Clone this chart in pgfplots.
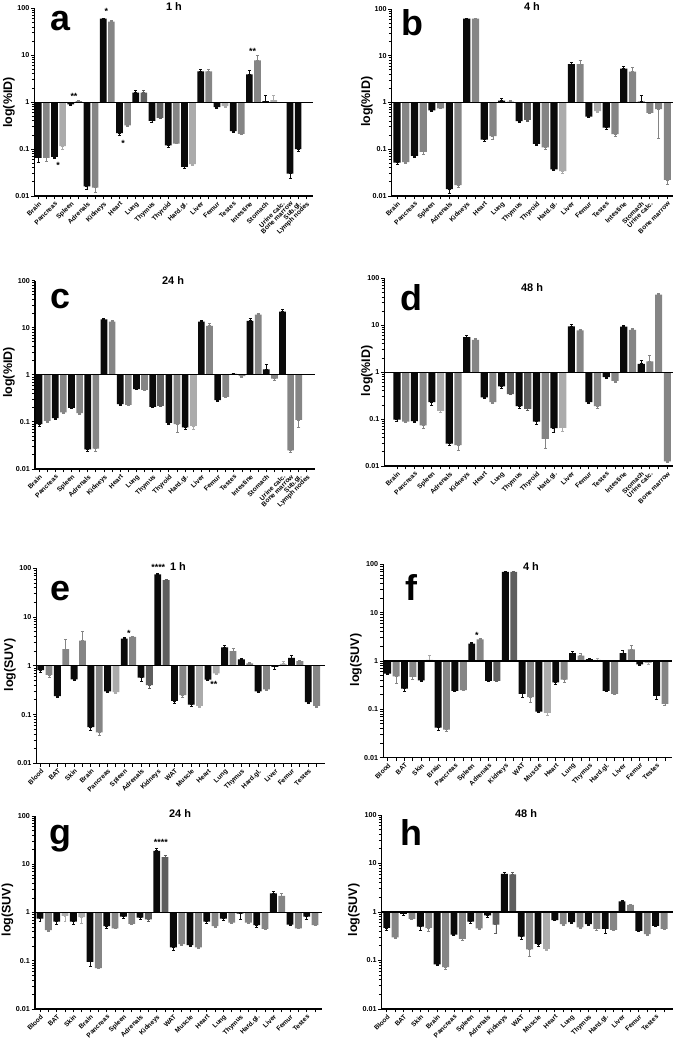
\documentclass[border=0pt]{standalone}
\usepackage{fontspec}
\setmainfont{Liberation Sans}
\usepackage{pgfplots}
\usepackage{pgfplotstable}
\pgfplotsset{compat=1.18}

\definecolor{bk}{HTML}{0A0A0A}
\definecolor{gA}{HTML}{858585}
\definecolor{gB}{HTML}{5E5E5E}
\definecolor{gC}{HTML}{ABABAB}

% x y(mean) e(error end) c(colour class)
\pgfplotstableread{
x y e c
0 0.065 0.053 0
1 0.065 0.055 1
2 0.068 0.063 0
3 0.115 0.100 3
4 0.90 0.85 0
5 1.05 1.08 1
6 0.016 0.014 0
7 0.015 0.012 1
8 60 62 0
9 52 55 1
10 0.22 0.20 0
11 0.32 0.31 1
12 1.6 1.8 0
13 1.6 1.8 2
14 0.40 0.37 0
15 0.46 0.45 2
16 0.12 0.11 0
17 0.13 0.13 1
18 0.042 0.038 0
19 0.048 0.045 3
20 4.5 4.9 0
21 4.5 4.9 1
22 0.78 0.73 0
23 0.82 0.78 3
24 0.24 0.23 0
25 0.21 0.21 1
26 3.9 4.7 0
27 7.8 10 1
28 1.05 1.4 0
29 1.1 1.4 3
31 0.030 0.024 0
32 0.10 0.088 0
}\dA

\pgfplotstableread{
x y e c
0 0.052 0.047 0
1 0.053 0.049 1
2 0.072 0.066 0
3 0.088 0.078 1
4 0.68 0.65 0
5 0.75 0.73 1
6 0.014 0.0115 0
7 0.017 0.015 1
8 62 63 0
9 62 63 1
10 0.16 0.145 0
11 0.19 0.165 1
12 1.1 1.2 0
13 1.05 1.1 1
14 0.40 0.37 0
15 0.42 0.39 2
16 0.13 0.12 0
17 0.11 0.097 1
18 0.037 0.035 0
19 0.034 0.031 3
20 6.6 7.3 0
21 6.6 8.0 1
22 0.50 0.47 0
23 0.65 0.62 3
24 0.29 0.26 0
25 0.21 0.185 1
26 5.3 6.0 0
27 4.6 5.6 1
28 1.05 1.4 0
29 0.60 0.58 1
30 0.72 0.17 1
31 0.022 0.018 1
}\dB

\pgfplotstableread{
x y e c
0 0.09 0.08 0
1 0.105 0.10 1
2 0.12 0.115 0
3 0.16 0.15 1
4 0.20 0.19 0
5 0.153 0.145 1
6 0.026 0.024 0
7 0.027 0.024 1
8 15 16 0
9 13.5 14.5 1
10 0.24 0.23 0
11 0.23 0.22 1
12 0.50 0.48 0
13 0.48 0.46 1
14 0.21 0.20 0
15 0.22 0.21 2
16 0.095 0.088 0
17 0.09 0.06 1
18 0.077 0.07 0
19 0.08 0.068 3
20 13.5 14 0
21 11 12.5 1
22 0.29 0.27 0
23 0.34 0.33 1
24 1.05 1.08 0
25 0.94 0.90 1
26 14 15.5 0
27 19 20 1
28 1.3 1.65 0
29 0.83 0.78 1
30 22 24 0
31 0.025 0.022 1
32 0.11 0.075 1
}\dC

\pgfplotstableread{
x y e c
0 0.097 0.09 0
1 0.088 0.083 1
2 0.09 0.085 0
3 0.073 0.063 1
4 0.23 0.20 0
5 0.15 0.14 3
6 0.030 0.027 0
7 0.028 0.022 1
8 5.6 6.0 0
9 4.9 5.2 1
10 0.29 0.28 0
11 0.23 0.22 1
12 0.50 0.46 0
13 0.34 0.33 2
14 0.19 0.17 0
15 0.165 0.155 2
16 0.088 0.078 0
17 0.038 0.024 1
18 0.064 0.052 0
19 0.065 0.054 3
20 9.5 10.3 0
21 7.8 8.1 1
22 0.23 0.22 0
23 0.19 0.17 1
24 0.78 0.75 0
25 0.65 0.60 1
26 9.3 10 0
27 8.0 8.6 1
28 1.5 1.75 0
29 1.7 2.3 1
30 45 47 1
31 0.0125 0.012 1
}\dD

\pgfplotstableread{
x y e c
0 0.82 0.75 0
1 0.65 0.58 1
2 0.24 0.225 0
3 2.2 3.5 1
4 0.53 0.50 0
5 3.3 5.2 1
6 0.055 0.048 0
7 0.043 0.037 1
8 0.30 0.28 0
9 0.29 0.27 3
10 3.6 3.9 0
11 3.9 4.1 1
12 0.57 0.47 0
13 0.40 0.35 2
14 75 78 0
15 57 60 2
16 0.19 0.17 0
17 0.25 0.22 1
18 0.16 0.145 0
19 0.15 0.14 3
20 0.52 0.50 0
21 0.70 0.68 3
22 2.4 2.65 0
23 2.0 2.25 1
24 1.35 1.4 0
25 1.12 1.15 1
26 0.30 0.28 0
27 0.33 0.32 1
28 0.95 0.83 0
29 1.1 1.25 3
30 1.45 1.6 0
31 1.25 1.3 1
32 0.18 0.17 0
33 0.15 0.14 1
}\dE

\pgfplotstableread{
x y e c
0 0.55 0.52 0
1 0.48 0.35 1
2 0.27 0.23 0
3 0.47 0.42 1
4 0.40 0.37 0
5 1.05 1.3 3
6 0.042 0.037 0
7 0.038 0.035 1
8 0.24 0.235 0
9 0.25 0.245 1
10 2.3 2.4 0
11 2.8 3.0 1
12 0.39 0.38 0
13 0.39 0.38 2
14 70 71 0
15 70 71 2
16 0.21 0.18 0
17 0.18 0.14 1
18 0.09 0.085 0
19 0.085 0.075 3
20 0.36 0.33 0
21 0.41 0.36 1
22 1.45 1.6 0
23 1.3 1.45 1
24 1.1 1.12 0
25 1.05 1.15 3
26 0.24 0.235 0
27 0.21 0.20 1
28 1.45 1.65 0
29 1.75 2.1 1
30 0.85 0.82 0
31 0.92 0.87 3
32 0.19 0.16 0
33 0.13 0.12 1
}\dF

\pgfplotstableread{
x y e c
0 0.75 0.66 0
1 0.43 0.41 1
2 0.65 0.58 0
3 0.85 0.65 3
4 0.65 0.58 0
5 0.80 0.60 3
6 0.095 0.078 0
7 0.07 0.07 1
8 0.52 0.46 0
9 0.47 0.46 1
10 0.82 0.75 0
11 0.58 0.56 1
12 0.78 0.72 0
13 0.72 0.65 2
14 19 21 0
15 14 15.5 2
16 0.19 0.165 0
17 0.22 0.21 1
18 0.21 0.195 0
19 0.19 0.18 1
20 0.65 0.60 0
21 0.52 0.50 1
22 0.75 0.70 0
23 0.62 0.60 1
24 0.95 0.72 0
25 0.62 0.59 1
26 0.55 0.50 0
27 0.46 0.45 1
28 2.5 2.7 0
29 2.2 2.45 1
30 0.56 0.53 0
31 0.47 0.46 1
32 0.82 0.72 0
33 0.55 0.53 1
}\dG

\pgfplotstableread{
x y e c
0 0.47 0.42 0
1 0.30 0.29 1
2 0.92 0.85 0
3 0.72 0.70 1
4 0.50 0.42 0
5 0.47 0.40 1
6 0.083 0.08 0
7 0.073 0.066 1
8 0.34 0.33 0
9 0.28 0.26 1
10 0.63 0.59 0
11 0.46 0.43 1
12 0.85 0.78 0
13 0.55 0.36 2
14 6.1 6.5 0
15 6.0 6.7 2
16 0.31 0.27 0
17 0.17 0.12 1
18 0.22 0.20 0
19 0.17 0.165 3
20 0.68 0.66 0
21 0.56 0.54 1
22 0.62 0.58 0
23 0.48 0.47 1
24 0.56 0.52 0
25 0.45 0.42 1
26 0.45 0.37 0
27 0.43 0.42 1
28 1.65 1.75 0
29 1.4 1.45 1
30 0.41 0.40 0
31 0.35 0.33 1
32 0.52 0.50 0
33 0.45 0.44 1
}\dH

\pgfplotsset{every axis/.append style={
    scale only axis,
    ymode=log, ymin=0.01, ymax=100,
    ytick={0.01,0.1,1,10,100}, yticklabels={0.01,0.1,1,10,100},
    minor ytick={},
    axis x line*=bottom, axis y line*=left,
    axis line style={line width=1.1pt, black},
    tick align=outside, major tick length=3.5pt,
    tick style={line width=0.9pt, black},
    yticklabel style={font=\bfseries\fontsize{7.2}{8}\selectfont, inner sep=1.5pt},
    xticklabel style={font=\bfseries\fontsize{6.6}{7}\selectfont, rotate=45,
      anchor=north east, inner sep=1pt},
    clip=false}}

% one bar colour class: #1 colour, #2 class, #3 table
\newcommand\onebar[3]{%
  \addplot[ybar, bar width=0.82, bar shift=0pt, draw=none, fill=#1,
    restrict expr to domain={\thisrow{c}}{#2:#2},
    error bars/y dir=both, error bars/y explicit,
    error bars/error bar style={#1, line width=0.8pt},
    error bars/error mark options={#1, rotate=90, mark size=1.5pt, line width=0.8pt}]
    table[x=x, y=y,
    y error plus expr={max(\thisrow{e}-\thisrow{y},0)},
    y error minus expr={max(\thisrow{y}-\thisrow{e},0)}] {#3};
}
\newcommand\bargroup[1]{%
  \onebar{bk}{0}{#1}
  \onebar{gA}{1}{#1}
  \onebar{gB}{2}{#1}
  \onebar{gC}{3}{#1}
  \draw[line width=1.1pt, black] (rel axis cs:0,0.5) -- (rel axis cs:1,0.5);
}

\begin{document}
\begin{tikzpicture}
\useasboundingbox (0,0) rectangle (675bp,-1045bp);

% ---------- a ----------
\begin{axis}[anchor=south west, at={(34.6bp,-196bp)}, width=278.4bp, height=187.7bp,
  xmin=-0.45, xmax=33.83, xtick={0,...,33},
  xticklabels={Brain,,Pancreas,,Spleen,,Adrenals,,Kidneys,,Heart,,Lung,,Thymus,,Thyroid,,Hard.gl.,,Liver,,Femur,,Testes,,Intestine,,Stomach,,Urine calc.,Bone marrow,Sub.gl.,Lymph nodes}]
\bargroup{\dA}
\node[font=\bfseries\fontsize{9}{9}\selectfont, inner sep=0pt] at (axis cs:8.4,85) {*};
\node[font=\bfseries\fontsize{9}{9}\selectfont, inner sep=0pt] at (axis cs:4.4,1.3) {**};
\node[font=\bfseries\fontsize{9}{9}\selectfont, inner sep=0pt] at (axis cs:2.45,0.045) {*};
\node[font=\bfseries\fontsize{9}{9}\selectfont, inner sep=0pt] at (axis cs:10.45,0.13) {*};
\node[font=\bfseries\fontsize{9}{9}\selectfont, inner sep=0pt] at (axis cs:26.4,11.8) {**};
\end{axis}

% ---------- b ----------
\begin{axis}[anchor=south west, at={(391.7bp,-196bp)}, width=281.3bp, height=187bp,
  xmin=-0.61, xmax=31.65, xtick={0,...,31},
  xticklabels={Brain,,Pancreas,,Spleen,,Adrenals,,Kidneys,,Heart,,Lung,,Thymus,,Thyroid,,Hard.gl.,,Liver,,Femur,,Testes,,Intestine,,Stomach,Urine calc.,,Bone marrow}]
\bargroup{\dB}
\end{axis}

% ---------- c ----------
\begin{axis}[anchor=south west, at={(35bp,-469bp)}, width=280bp, height=188.3bp,
  xmin=-0.5, xmax=34.0, xtick={0,...,33},
  xticklabels={Brain,,Pancreas,,Spleen,,Adrenals,,Kidneys,,Heart,,Lung,,Thymus,,Thyroid,,Hard.gl.,,Liver,,Femur,,Testes,,Intestine,,Stomach,,Urine calc.,Bone marrow,Sub.gl.,Lymph nodes}]
\bargroup{\dC}
\end{axis}

% ---------- d ----------
\begin{axis}[anchor=south west, at={(384.5bp,-466bp)}, width=288.5bp, height=187.7bp,
  xmin=-1.43, xmax=31.65, xtick={0,...,31},
  xticklabels={Brain,,Pancreas,,Spleen,,Adrenals,,Kidneys,,Heart,,Lung,,Thymus,,Thyroid,,Hard.gl.,,Liver,,Femur,,Testes,,Intestine,,Stomach,Urine calc.,,Bone marrow}]
\bargroup{\dD}
\end{axis}

% ---------- e ----------
\begin{axis}[anchor=south west, at={(36.5bp,-763.3bp)}, width=288.5bp, height=195bp,
  xmin=-0.5, xmax=34.0, xtick={0,...,33},
  xticklabels={Blood,,BAT,,Skin,,Brain,,Pancreas,,Spleen,,Adrenals,,Kidneys,,WAT,,Muscle,,Heart,,Lung,,Thymus,,Hard.gl.,,Liver,,Femur,,Testes,}]
\bargroup{\dE}
\node[font=\bfseries\fontsize{9}{9}\selectfont, inner sep=0pt] at (axis cs:10.56,4.6) {*};
\node[font=\bfseries\fontsize{9}{9}\selectfont, inner sep=0pt] at (axis cs:20.7,0.42) {**};
\node[font=\bfseries\fontsize{9}{9}\selectfont, inner sep=0pt] at (axis cs:14.06,105) {****};
\end{axis}

% ---------- f ----------
\begin{axis}[anchor=south west, at={(383.3bp,-757.7bp)}, width=288.4bp, height=193.4bp,
  xmin=-0.52, xmax=33.8, xtick={0,...,33},
  xticklabels={Blood,,BAT,,Skin,,Brain,,Pancreas,,Spleen,,Adrenals,,Kidneys,,WAT,,Muscle,,Heart,,Lung,,Thymus,,Hard.gl.,,Liver,,Femur,,Testes,}]
\bargroup{\dF}
\node[font=\bfseries\fontsize{9}{9}\selectfont, inner sep=0pt] at (axis cs:10.6,3.4) {*};
\end{axis}

% ---------- g ----------
\begin{axis}[anchor=south west, at={(35bp,-1009bp)}, width=286.7bp, height=193bp,
  xmin=-0.6, xmax=33.8, xtick={0,...,33},
  xticklabels={Blood,,BAT,,Skin,,Brain,,Pancreas,,Spleen,,Adrenals,,Kidneys,,WAT,,Muscle,,Heart,,Lung,,Thymus,,Hard.gl.,,Liver,,Femur,,Testes,}]
\bargroup{\dG}
\node[font=\bfseries\fontsize{9}{9}\selectfont, inner sep=0pt] at (axis cs:14.5,28) {****};
\end{axis}

% ---------- h ----------
\begin{axis}[anchor=south west, at={(381.7bp,-1009bp)}, width=291.6bp, height=194bp,
  xmin=-0.6, xmax=34.1, xtick={0,...,33},
  xticklabels={Blood,,BAT,,Skin,,Brain,,Pancreas,,Spleen,,Adrenals,,Kidneys,,WAT,,Muscle,,Heart,,Lung,,Thymus,,Hard.gl.,,Liver,,Femur,,Testes,}]
\bargroup{\dH}
\end{axis}

% titles
\begin{scope}[every node/.style={font=\bfseries\fontsize{11}{12}\selectfont, inner sep=0pt}]
\node at (174bp,-6.5bp) {1 h};
\node at (532bp,-6.5bp) {4 h};
\node at (173bp,-280.5bp) {24 h};
\node at (532bp,-287.5bp) {48 h};
\node at (178bp,-567bp) {1 h};
\node at (531bp,-566.7bp) {4 h};
\node at (180bp,-813.7bp) {24 h};
\node at (526bp,-813.3bp) {48 h};
\end{scope}

% panel letters
\begin{scope}[every node/.style={font=\bfseries\fontsize{36}{40}\selectfont, inner sep=0pt, anchor=base}]
\node at (60bp,-30bp) {a};
\node at (412.5bp,-35bp) {b};
\node at (60bp,-308.3bp) {c};
\node at (411.7bp,-310bp) {d};
\node at (60bp,-600bp) {e};
\node at (411.7bp,-600bp) {f};
\node at (60bp,-844bp) {g};
\node at (411.5bp,-845bp) {h};
\end{scope}

% y labels
\begin{scope}[every node/.style={font=\bfseries\fontsize{12.5}{14}\selectfont, inner sep=0pt, rotate=90}]
\node at (9bp,-102.5bp) {log(\%ID)};
\node at (367bp,-101.7bp) {log(\%ID)};
\node at (9bp,-372.5bp) {log(\%ID)};
\node at (367bp,-370.8bp) {log(\%ID)};
\node at (10bp,-665bp) {log(SUV)};
\node at (356bp,-660bp) {log(SUV)};
\node at (7.5bp,-910bp) {log(SUV)};
\node at (354bp,-910bp) {log(SUV)};
\end{scope}
\end{tikzpicture}
\end{document}
